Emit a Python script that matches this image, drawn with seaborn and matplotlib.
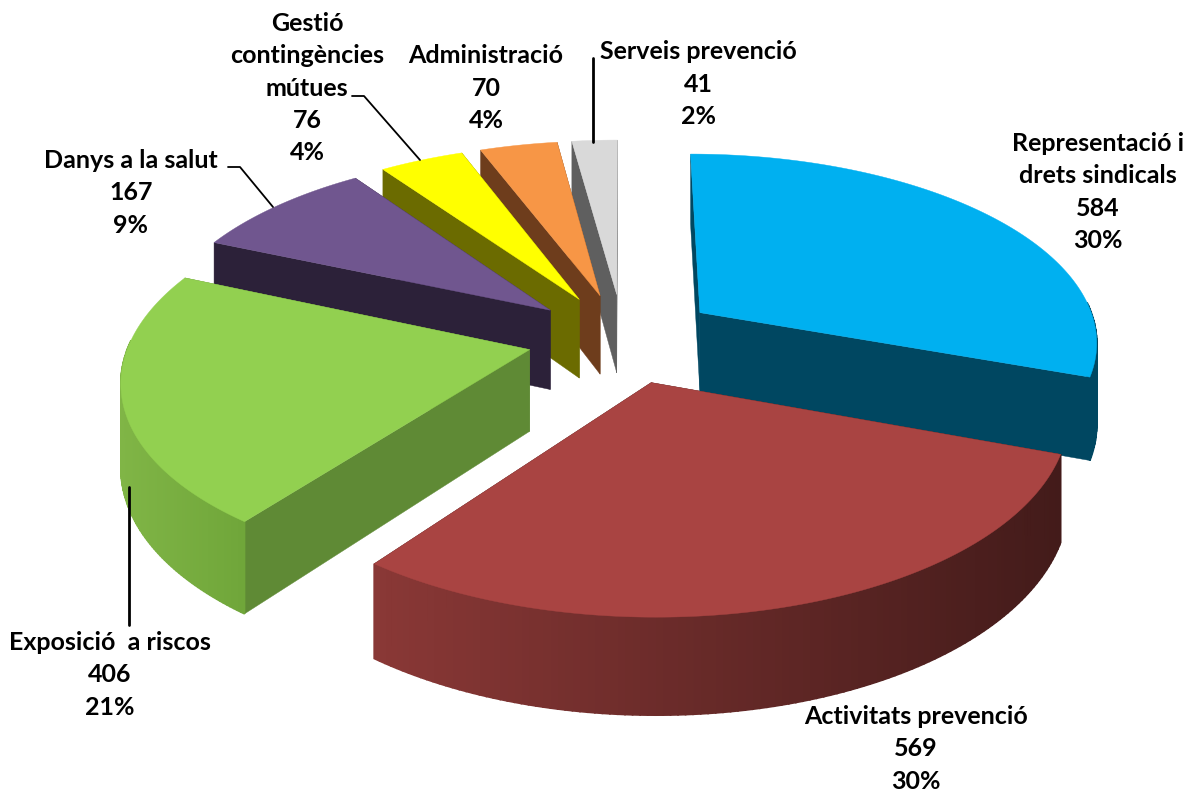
import numpy as np
import seaborn as sns
import matplotlib.pyplot as plt
from matplotlib.colors import to_rgb

labels = ["Representació i\ndrets sindicals", "Activitats prevenció", "Exposició  a riscos",
          "Danys a la salut", "Gestió\ncontingències\nmútues", "Administració", "Serveis prevenció"]
values = [584, 569, 406, 167, 76, 70, 41]
percents = ["30%", "30%", "21%", "9%", "4%", "4%", "2%"]

top_colors = ["#00b0f0", "#a94442", "#92d050", "#70568f", "#ffff00", "#f79646", "#d9d9d9"]
face_colors = ["#004761", "#431b1a", "#5f8a35", "#2c2139", "#6b6b00", "#6e3d1c", "#5f5f5f"]
wall_left = ["#004761", "#8a3836", "#80b546", "#2c2139", "#6b6b00", "#6e3d1c", "#5f5f5f"]
wall_right = ["#004761", "#431b1a", "#70a63a", "#2c2139", "#6b6b00", "#6e3d1c", "#5f5f5f"]

label_pos = [(1098, 192), (916, 749), (110, 675), (131, 193), (307, 88), (486, 88), (698, 84)]

EXPLODE = 0.24
CX, CY = 623, 338
A, B, K, DEPTH = 399, 187.6, 0.141, 81


def project(u, v, down=False):
    w = 1 + K * v
    sy = CY - B * v / w
    if down:
        sy = sy + DEPTH / w
    return CX + A * u / w, sy


def draw_slice(ax, start, end, i):
    mid = np.radians((start + end) / 2)
    ou, ov = EXPLODE * np.sin(mid), EXPLODE * np.cos(mid)
    th = np.radians(np.linspace(start, end, 120))
    u = ou + np.sin(th)
    v = ov + np.cos(th)

    # cut faces first, then the rim, then the top
    for t in (th[0], th[-1]):
        eu, ev = ou + np.sin(t), ov + np.cos(t)
        x0, y0 = project(np.array([ou, eu]), np.array([ov, ev]))
        x1, y1 = project(np.array([ou, eu]), np.array([ov, ev]), down=True)
        ax.fill(np.r_[x0, x1[::-1]], np.r_[y0, y1[::-1]], color=face_colors[i], lw=0.3)

    xt, yt = project(u, v)
    xb, yb = project(u, v, down=True)
    left, right = np.array(to_rgb(wall_left[i])), np.array(to_rgb(wall_right[i]))
    for j in range(len(th) - 1):
        if np.cos((th[j] + th[j + 1]) / 2) > 0.05:
            continue
        f = (xt[j] - xt.min()) / max(xt.max() - xt.min(), 1)
        c = left + (right - left) * f
        ax.fill([xt[j], xt[j + 1], xb[j + 1], xb[j]], [yt[j], yt[j + 1], yb[j + 1], yb[j]],
                color=c, lw=1.2)

    ax.fill(np.r_[project(ou, ov)[0], xt], np.r_[project(ou, ov)[1], yt], color=top_colors[i], lw=0.3)


sns.set_theme(style="white")
plt.rcParams['font.family'] = ['Lato', 'DejaVu Sans']

fig = plt.figure(figsize=(11.92, 7.94), dpi=100)
ax = fig.add_axes([0, 0, 1, 1])

edges = np.r_[0, np.cumsum(values)] / sum(values) * 360
order = [6, 5, 4, 3, 0, 2, 1]
for i in order:
    draw_slice(ax, edges[i], edges[i + 1], i)

# leader lines
ax.plot([228, 240, 273], [167, 167, 207], color="black", lw=1.3)
ax.plot([352, 364, 420], [96, 96, 160], color="black", lw=1.3)
ax.plot([593, 593], [58, 142], color="black", lw=2)
ax.plot([129, 129], [487, 625], color="black", lw=2)

for name, val, pct, (x, y) in zip(labels, values, percents, label_pos):
    ax.text(x, y, f"{name}\n{val}\n{pct}", ha="center", va="center", fontsize=18,
            fontweight="bold", color="black", linespacing=1.49)

ax.set_xlim(0, 1192)
ax.set_ylim(794, 0)
ax.axis("off")

plt.savefig("out.png", dpi=100)
